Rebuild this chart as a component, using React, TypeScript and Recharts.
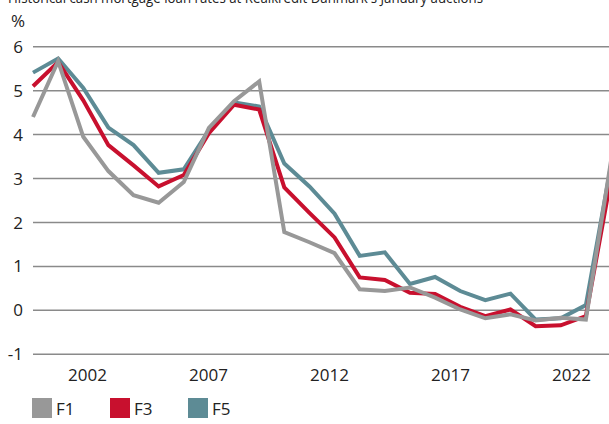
// App.tsx - Realkredit Danmark January auction rates

import { LineChart, Line, XAxis, YAxis, CartesianGrid, Legend } from "recharts"

// years of the January auctions
const years = [
  2000, 2001, 2002, 2003, 2004, 2005, 2006, 2007, 2008, 2009, 2010, 2011,
  2012, 2013, 2014, 2015, 2016, 2017, 2018, 2019, 2020, 2021, 2022, 2023,
]

// rates in %
const f1 = [
  4.4, 5.67, 3.95, 3.17, 2.62, 2.45, 2.92, 4.15, 4.76, 5.21, 1.78, 1.55,
  1.3, 0.48, 0.44, 0.52, 0.29, 0.02, -0.18, -0.09, -0.23, -0.17, -0.21, 3.4,
]
const f3 = [
  5.1, 5.65, 4.78, 3.76, 3.3, 2.82, 3.08, 4.03, 4.68, 4.57, 2.8, 2.22,
  1.66, 0.75, 0.69, 0.4, 0.37, 0.08, -0.13, 0.02, -0.36, -0.34, -0.13, 3.0,
]
const f5 = [
  5.41, 5.73, 5.06, 4.16, 3.76, 3.13, 3.21, 4.1, 4.73, 4.64, 3.34, 2.82,
  2.2, 1.24, 1.32, 0.6, 0.76, 0.44, 0.23, 0.38, -0.21, -0.18, 0.12, 3.3,
]

const yTicks = [-1, 0, 1, 2, 3, 4, 5, 6]
const xLabels = [2002, 2007, 2012, 2017, 2022]

const legendItems = [
  { name: "F1", color: "#989898" },
  { name: "F3", color: "#c8102e" },
  { name: "F5", color: "#5d8b95" },
]

const data = years.map((year, i) => ({ year, F1: f1[i], F3: f3[i], F5: f5[i] }))

const FONT = "'Open Sans', sans-serif"

function SquareLegend() {
  return (
    <div
      style={{
        display: "flex",
        alignItems: "center",
        height: 21,
        paddingLeft: 32,
        fontFamily: FONT,
        fontSize: 17,
        color: "#222",
      }}
    >
      {legendItems.map(s => (
        <div key={s.name} style={{ display: "flex", alignItems: "center", width: 78 }}>
          <span style={{ display: "inline-block", width: 20, height: 20, background: s.color, marginRight: 4 }} />
          <span>{s.name}</span>
        </div>
      ))}
    </div>
  )
}

export default function App() {
  return (
    <div style={{ position: "absolute", left: 0, top: 0, width: 609, height: 424, overflow: "hidden", background: "#fff" }}>
      {/* title (cut off at the top) and unit */}
      <svg width={609} height={40} style={{ position: "absolute", left: 0, top: 0 }}>
        <text x={8} y={3} fontFamily={FONT} fontSize={14} fill="#222" textLength={475} lengthAdjust="spacingAndGlyphs">
          Historical cash mortgage loan rates at Realkredit Danmark's January auctions
        </text>
        <text x={11} y={26.5} fontFamily={FONT} fontSize={17} fill="#222">%</text>
      </svg>
      <LineChart width={615} height={424} data={data} margin={{ top: 46.7, right: 4, bottom: 5.5, left: 0 }}>
        <CartesianGrid vertical={false} stroke="#8a8a8a" strokeWidth={1.5} />
        {/* year labels sit on their own scale, a bit tighter than the data points */}
        <XAxis
          xAxisId="labels"
          dataKey="year"
          type="number"
          domain={[1999.75, 2023.63]}
          allowDataOverflow
          ticks={xLabels}
          axisLine={false}
          tickLine={false}
          tickMargin={9}
          height={43.2}
          tick={{ fontFamily: FONT, fontSize: 17, fill: "#222" }}
        />
        <XAxis dataKey="year" type="number" domain={[2000, 2023]} hide height={0} />
        <YAxis
          type="number"
          domain={[-1, 6]}
          ticks={yTicks}
          axisLine={false}
          tickLine={false}
          tickMargin={4}
          width={33}
          tick={{ fontFamily: FONT, fontSize: 17, fill: "#222" }}
        />
        <Legend verticalAlign="bottom" align="left" content={() => <SquareLegend />} />
        <Line type="linear" dataKey="F5" stroke="#5d8b95" strokeWidth={4} dot={false} isAnimationActive={false} />
        <Line type="linear" dataKey="F3" stroke="#c8102e" strokeWidth={4} dot={false} isAnimationActive={false} />
        <Line type="linear" dataKey="F1" stroke="#989898" strokeWidth={4} dot={false} isAnimationActive={false} />
      </LineChart>
    </div>
  )
}
